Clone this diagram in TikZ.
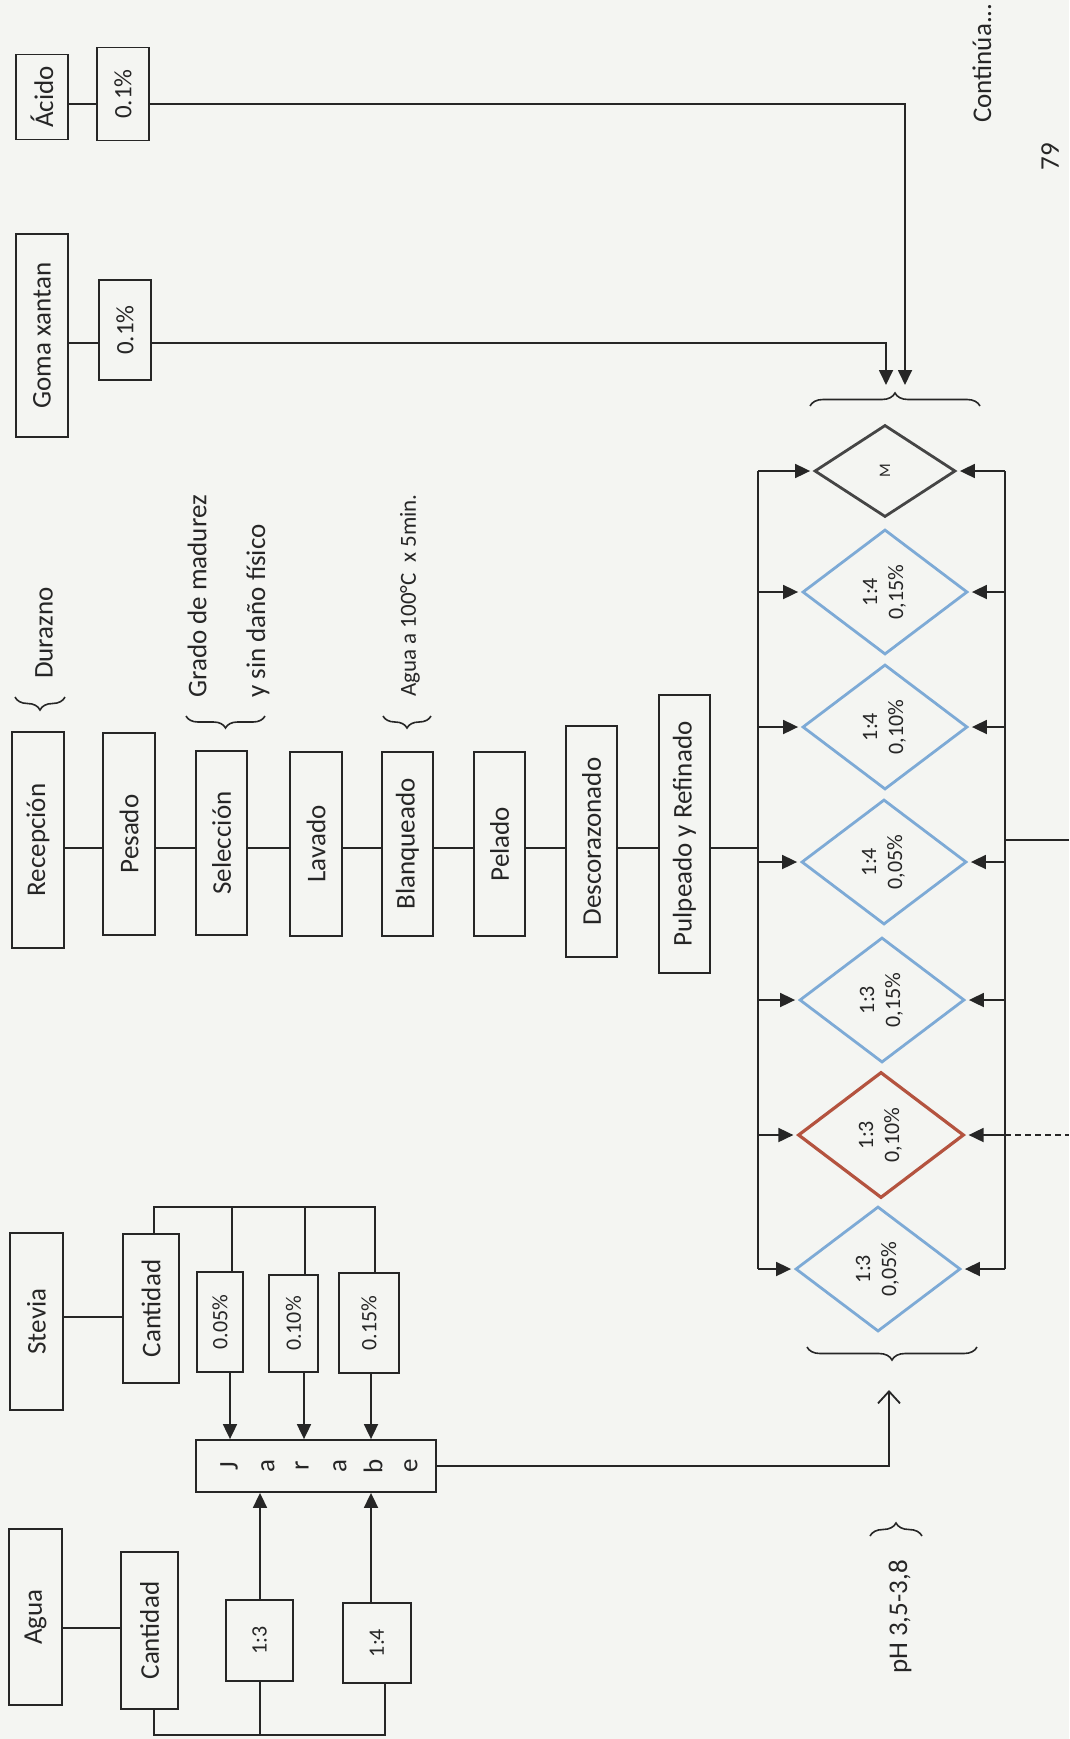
\documentclass[tikz,border=0pt]{standalone}
\usepackage{graphicx}
\usepackage{fontspec}
\setmainfont{Carlito}
\usetikzlibrary{arrows.meta,shapes.geometric,decorations.pathreplacing}
\definecolor{ink}{HTML}{262626}
\definecolor{dblue}{HTML}{7DAAD6}
\definecolor{dred}{HTML}{B4533F}
\definecolor{dgray}{HTML}{454545}
\definecolor{paper}{HTML}{F4F5F2}
\begin{document}
\begin{tikzpicture}[x=1pt,y=-1pt,
  box/.style={draw=ink, line width=1.8pt, rectangle, inner sep=0pt, text=ink, font={\fontsize{27}{32}\selectfont}},
  pct/.style={box, font={\fontsize{22}{26}\selectfont}},
  ln/.style={draw=ink, line width=1.8pt},
  arr/.style={ln, -{Triangle[length=15pt,width=14pt]}},
  oarr/.style={ln, -{Straight Barb[length=12pt,width=22pt]}},
  dia/.style={diamond, draw=dblue, line width=2.8pt, inner sep=0pt, text=ink, font={\fontsize{22}{26}\selectfont}},
  brc/.style={ln, line width=1.6pt, decorate, decoration={brace, amplitude=12pt}},
  note/.style={text=ink, inner sep=0pt, font={\fontsize{27}{32}\selectfont}}
]
\useasboundingbox (0,0) rectangle (1069,1739);
\fill[paper] (0,0) rectangle (1069,1739);

% ---------- top: acid and gum ----------
\node[box, minimum width=52pt, minimum height=85pt] (acido) at (42,97) {\rotatebox{90}{Ácido}};
\node[box, minimum width=52pt, minimum height=93pt, font={\fontsize{25}{30}\selectfont}] (acidp) at (123,94) {\rotatebox{90}{0.1\%}};
\node[box, minimum width=52pt, minimum height=203pt] (goma) at (42,335.5) {\rotatebox{90}{Goma xantan}};
\node[box, minimum width=52pt, minimum height=100pt, font={\fontsize{25}{30}\selectfont}] (gomap) at (125,330) {\rotatebox{90}{0.1\%}};
\coordinate (ya) at (0,104);
\coordinate (yg) at (0,343);
\coordinate (tipA) at (905,385);
\coordinate (tipG) at (886,385);
\draw[ln] (acido.east |- ya) -- (acidp.west |- ya);
\draw[arr] (acidp.east |- ya) -| (tipA);
\draw[ln] (goma.east |- yg) -- (gomap.west |- yg);
\draw[arr] (gomap.east |- yg) -| (tipG);
\draw[brc, decoration={brace, amplitude=13pt}] (810,406) -- (980,406);

\node[note, anchor=south] (cont) at (982,123) {\rotatebox{90}{Continúa...}};
\node[note] (pg) at (1050,157) {\rotatebox{90}{79}};

% ---------- process column ----------
\node[box, minimum width=52pt, minimum height=216pt] (rec) at (38,840) {\rotatebox{90}{Recepción}};
\node[box, minimum width=52pt, minimum height=202pt] (pes) at (129,834) {\rotatebox{90}{Pesado}};
\node[box, minimum width=51pt, minimum height=184pt] (sel) at (221.5,843) {\rotatebox{90}{Selección}};
\node[box, minimum width=52pt, minimum height=184pt] (lav) at (316,844) {\rotatebox{90}{Lavado}};
\node[box, minimum width=51pt, minimum height=184pt] (bla) at (407.5,844) {\rotatebox{90}{Blanqueado}};
\node[box, minimum width=51pt, minimum height=184pt] (pel) at (499.5,844) {\rotatebox{90}{Pelado}};
\node[box, minimum width=51pt, minimum height=231pt] (des) at (591.5,841.5) {\rotatebox{90}{Descorazonado}};
\node[box, minimum width=51pt, minimum height=278pt] (pul) at (684.5,834) {\rotatebox{90}{Pulpeado y Refinado}};
\coordinate (ym) at (0,848);
\draw[ln] (rec.east |- ym) -- (pes.west |- ym);
\draw[ln] (pes.east |- ym) -- (sel.west |- ym);
\draw[ln] (sel.east |- ym) -- (lav.west |- ym);
\draw[ln] (lav.east |- ym) -- (bla.west |- ym);
\draw[ln] (bla.east |- ym) -- (pel.west |- ym);
\draw[ln] (pel.east |- ym) -- (des.west |- ym);
\draw[ln] (des.east |- ym) -- (pul.west |- ym);

\draw[brc, decoration={brace, amplitude=13pt}] (65,697) -- (15,697);
\node[note, anchor=south] (dur) at (44,679) {\rotatebox{90}{Durazno}};
\draw[brc] (265,716) -- (186,716);
\node[note, anchor=south] (grado) at (197,698) {\rotatebox{90}{Grado de madurez}};
\node[note, anchor=south] (dano) at (258,698) {\rotatebox{90}{y sin daño físico}};
\draw[brc] (431,716) -- (383,716);
\node[note, anchor=south, font={\fontsize{23}{28}\selectfont}] (agua100) at (410,697) {\rotatebox{90}{Agua a 100°C\ \ x 5min.}};

% ---------- formulations ----------
\node[dia, draw=dgray, minimum width=141pt, minimum height=92pt, font={\fontsize{16}{19}\selectfont}] (dM) at (885,471) {\rotatebox{90}{M}};
\node[dia, minimum width=165pt, minimum height=125pt] (d4c) at (885,592) {\rotatebox{90}{\begin{tabular}{@{}c@{}}1:4\\0,15\%\end{tabular}}};
\node[dia, minimum width=165pt, minimum height=125pt] (d4b) at (885,727) {\rotatebox{90}{\begin{tabular}{@{}c@{}}1:4\\0,10\%\end{tabular}}};
\node[dia, minimum width=165pt, minimum height=125pt] (d4a) at (884,862) {\rotatebox{90}{\begin{tabular}{@{}c@{}}1:4\\0,05\%\end{tabular}}};
\node[dia, minimum width=165pt, minimum height=125pt] (d3c) at (882,1000) {\rotatebox{90}{\begin{tabular}{@{}c@{}}1:3\\0,15\%\end{tabular}}};
\node[dia, draw=dred, line width=3.2pt, minimum width=166pt, minimum height=126pt] (d3b) at (881,1135) {\rotatebox{90}{\begin{tabular}{@{}c@{}}1:3\\0,10\%\end{tabular}}};
\node[dia, minimum width=165pt, minimum height=125pt] (d3a) at (878,1269) {\rotatebox{90}{\begin{tabular}{@{}c@{}}1:3\\0,05\%\end{tabular}}};

\coordinate (lbx) at (758,0);
\coordinate (rbx) at (1005,0);
\coordinate (redge) at (1069,0);
\draw[ln] (pul.east |- ym) -- (ym -| lbx);
\draw[ln] (dM.west -| lbx) -- (d3a.west -| lbx);
\draw[ln] (dM.east -| rbx) -- (d3a.east -| rbx);
\foreach \d in {dM,d4c,d4b,d4a,d3c,d3b,d3a} {
  \draw[arr, shorten >=3pt] (\d.west -| lbx) -- (\d.west);
  \draw[arr, shorten >=3pt] (\d.east -| rbx) -- (\d.east);
}
\coordinate (rin) at (1069,840);
\draw[ln] (rin -| rbx) -- (rin);
\draw[ln, dash pattern=on 6pt off 4pt] (d3b.east -| rbx) -- (d3b.east -| redge);

\draw[brc, decoration={brace, amplitude=13pt}] (977,1347) -- (807,1347);
\coordinate (tipJ) at (889,1390);
\coordinate (jy) at (0,1466);

\draw[brc, decoration={brace, amplitude=13pt}] (870,1536) -- (922,1536);
\node[note, anchor=north] (ph) at (900,1560) {\rotatebox{90}{pH 3,5-3,8}};

% ---------- syrup ----------
\node[box, minimum width=53pt, minimum height=177pt] (stev) at (36.5,1321.5) {\rotatebox{90}{Stevia}};
\node[box, minimum width=56pt, minimum height=149pt] (stcan) at (151,1308.5) {\rotatebox{90}{Cantidad}};
\coordinate (ys) at (0,1317);
\draw[ln] (stev.east |- ys) -- (stcan.west |- ys);
\node[pct, minimum width=46pt, minimum height=100pt] (p05) at (220,1322) {\rotatebox{90}{0.05\%}};
\node[pct, minimum width=49pt, minimum height=97pt] (p10) at (293.5,1323.5) {\rotatebox{90}{0.10\%}};
\node[pct, minimum width=60pt, minimum height=100pt] (p15) at (369,1323) {\rotatebox{90}{0.15\%}};
\coordinate (yt) at (0,1207);
\coordinate (xs) at (154,0);
\coordinate (x05) at (232,0);
\coordinate (x10) at (305,0);
\coordinate (x15) at (375,0);
\draw[ln] (stcan.north -| xs) -- (yt -| xs) -- (yt -| x15) -- (p15.north -| x15);
\draw[ln] (yt -| x05) -- (p05.north -| x05);
\draw[ln] (yt -| x10) -- (p10.north -| x10);

\node[box, minimum width=240pt, minimum height=52pt] (jar) at (316,1466) {};
\foreach \x/\l in {229/J,268/a,302/r,340/a,373/b,411/e} {
  \node[note] (let\x) at (\x,1466) {\rotatebox{90}{\l}};
}
\coordinate (xa05) at (230,0);
\coordinate (xa10) at (304,0);
\coordinate (xa15) at (371,0);
\draw[arr] (p05.south -| xa05) -- (jar.north -| xa05);
\draw[arr] (p10.south -| xa10) -- (jar.north -| xa10);
\draw[arr] (p15.south -| xa15) -- (jar.north -| xa15);
\draw[oarr] (jar.east |- jy) -| (tipJ);

\node[box, minimum width=53pt, minimum height=176pt] (agua) at (35.5,1617) {\rotatebox{90}{Agua}};
\node[box, minimum width=57pt, minimum height=157pt] (agcan) at (149.5,1630.5) {\rotatebox{90}{Cantidad}};
\coordinate (yw) at (0,1628);
\draw[ln] (agua.east |- yw) -- (agcan.west |- yw);
\node[pct, minimum width=67pt, minimum height=81pt] (r13) at (259.5,1640.5) {\rotatebox{90}{1:3}};
\node[pct, minimum width=68pt, minimum height=80pt] (r14) at (377,1643) {\rotatebox{90}{1:4}};
\coordinate (xr13) at (260,0);
\coordinate (xr14) at (371,0);
\coordinate (xa) at (154,0);
\coordinate (xb) at (385,0);
\coordinate (yb) at (0,1735);
\draw[arr] (r13.north -| xr13) -- (jar.south -| xr13);
\draw[arr] (r14.north -| xr14) -- (jar.south -| xr14);
\draw[ln] (agcan.south -| xa) -- (yb -| xa) -- (yb -| xb) -- (r14.south -| xb);
\draw[ln] (r13.south -| xr13) -- (yb -| xr13);
\end{tikzpicture}
\end{document}
